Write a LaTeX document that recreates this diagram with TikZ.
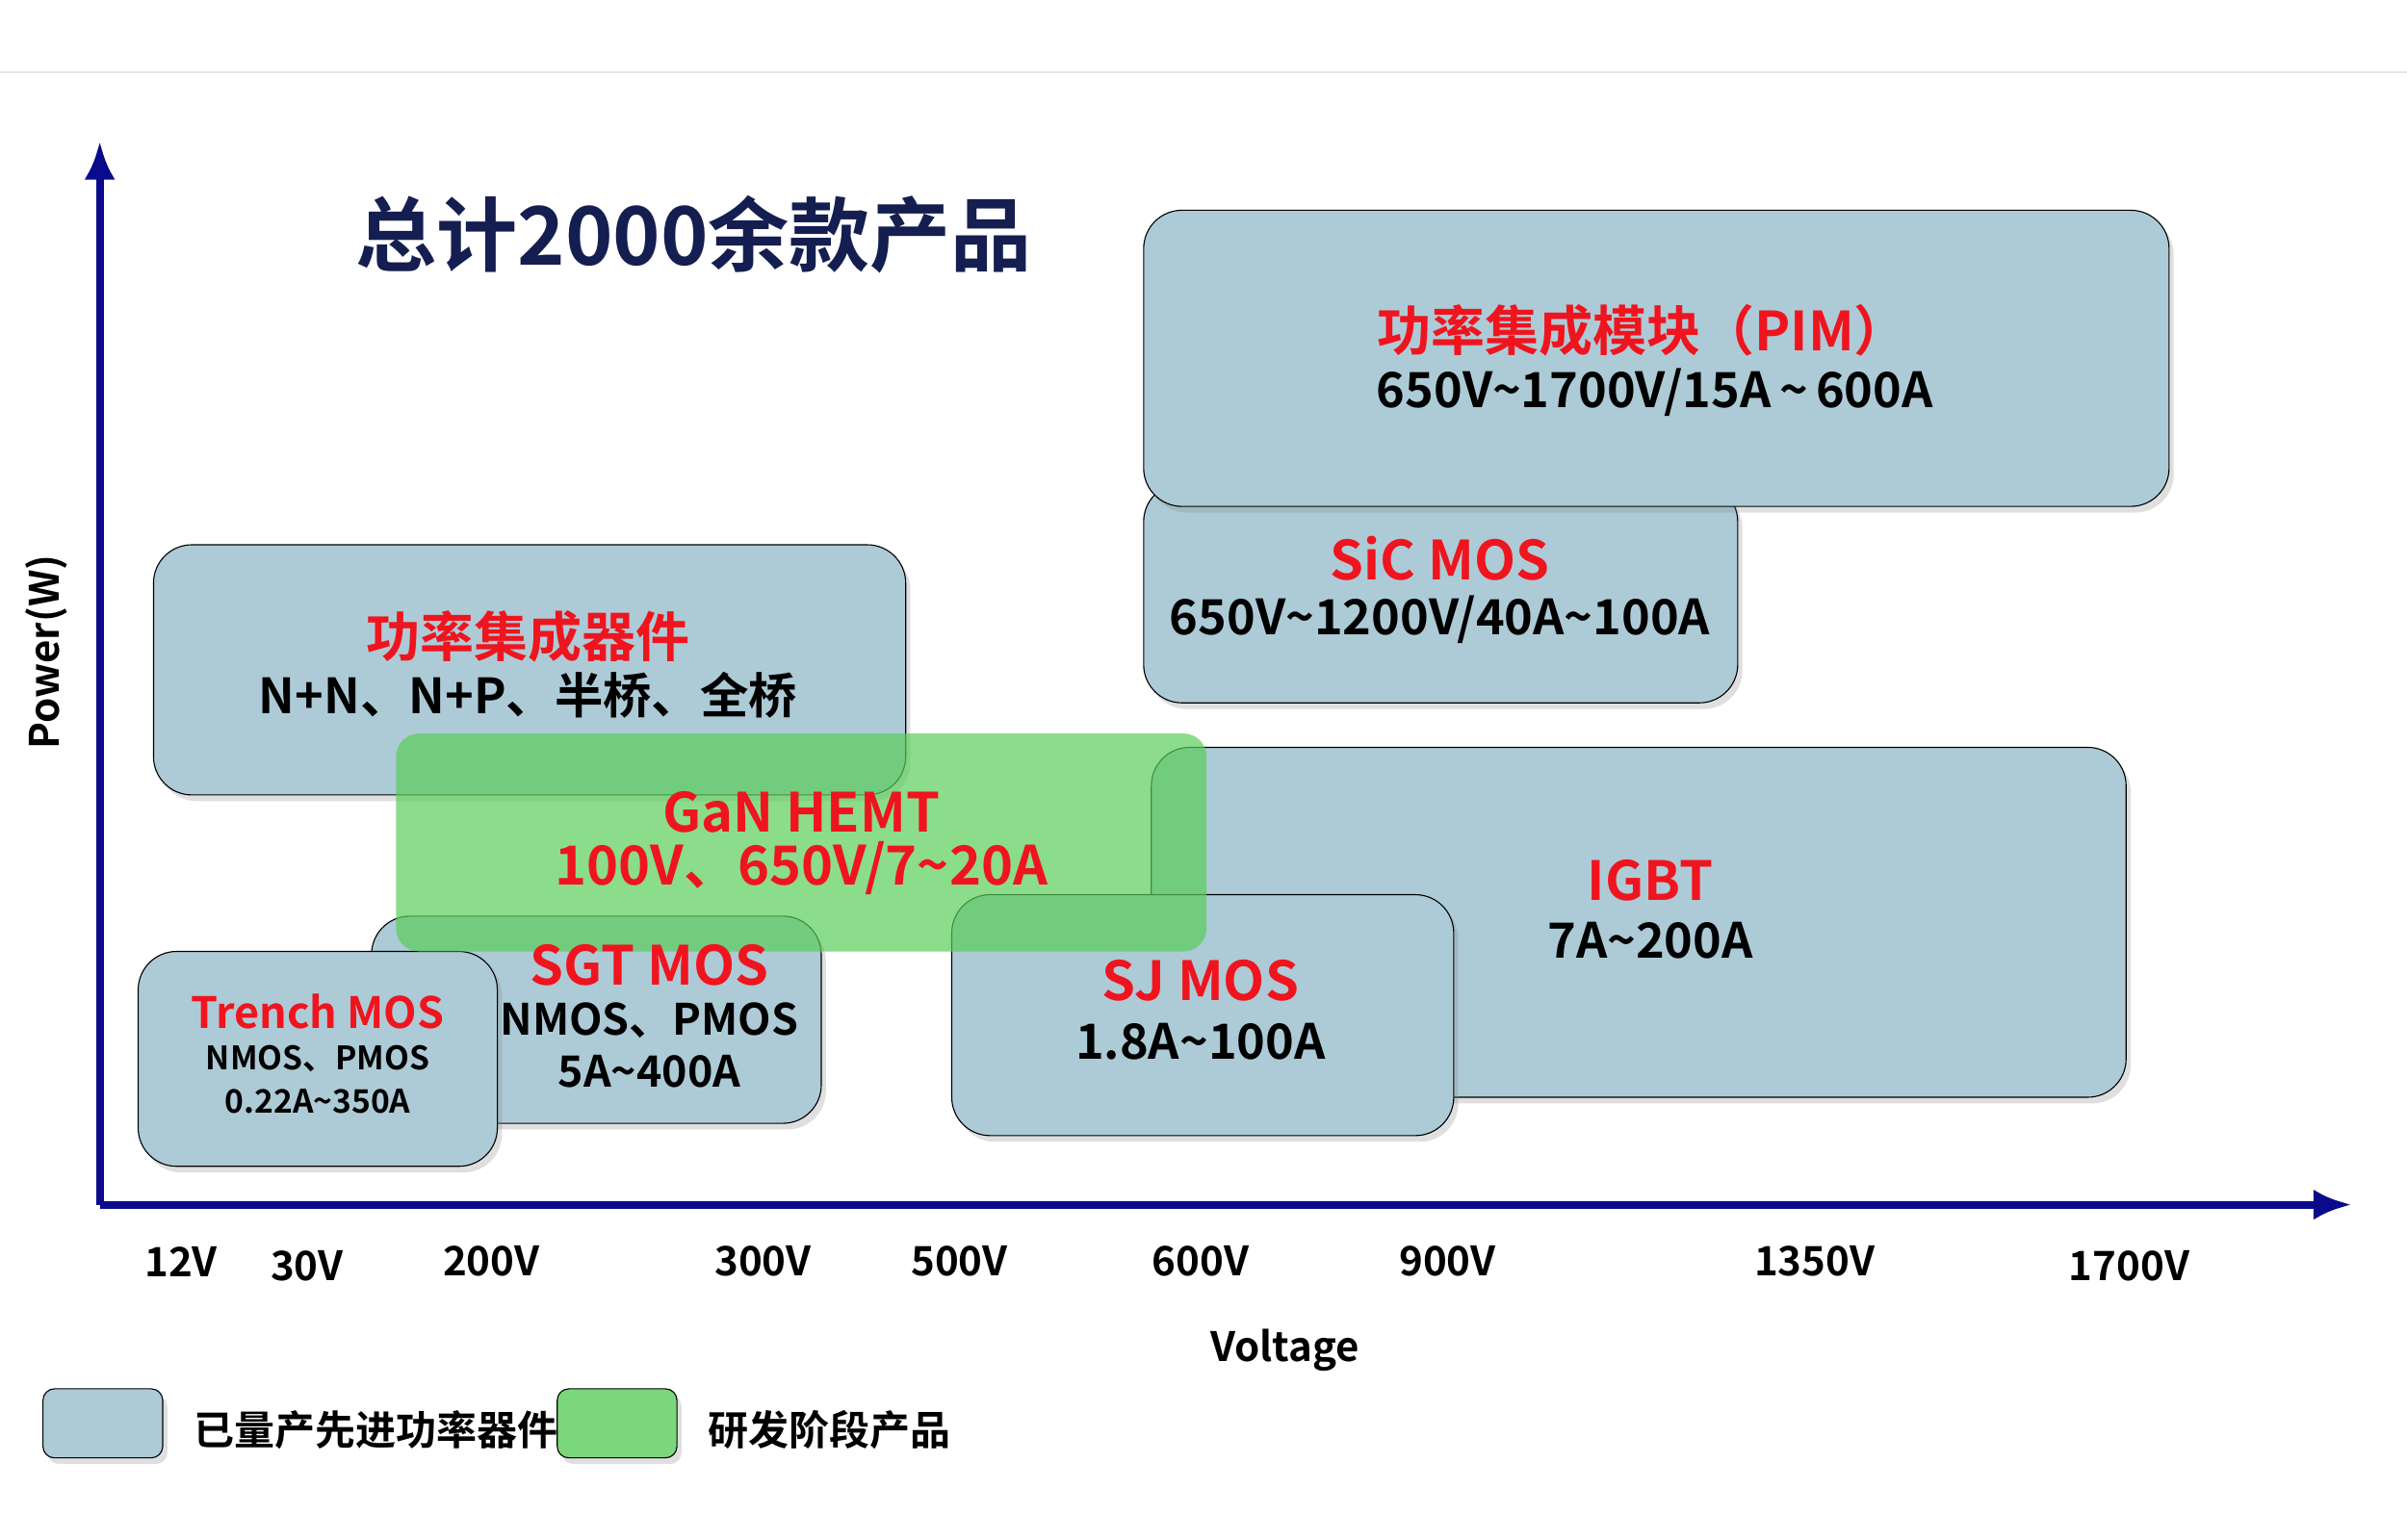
\documentclass[tikz,border=0pt]{standalone}
\usepackage{fontspec}
\setmainfont{Noto Sans CJK SC}[BoldFont={* Bold}]
\usetikzlibrary{shadows,arrows.meta}
\definecolor{boxblue}{RGB}{173,203,214}
\definecolor{gangreen}{RGB}{90,205,90}
\definecolor{hired}{RGB}{240,20,30}
\definecolor{axisblue}{RGB}{10,10,140}
\definecolor{titlenavy}{RGB}{20,30,80}
\begin{document}
\begin{tikzpicture}[x=0.02cm,y=-0.02cm,
   prodbox/.style={fill=boxblue,rounded corners=0.5cm,drop shadow={shadow xshift=0.06cm,shadow yshift=-0.08cm,opacity=0.25}},
   redlbl/.style={text=hired,font=\bfseries\fontsize{20}{24}\selectfont},
   vallbl/.style={font=\bfseries\fontsize{18}{22}\selectfont},
   ticklbl/.style={font=\bfseries\fontsize{15}{18}\selectfont},
   axis/.style={axisblue,line width=0.1cm,-{Latex[length=0.5cm,width=0.4cm]}}
  ]
  \useasboundingbox (0,0) rectangle (1568,1003);
  \draw[gray!20,line width=0.03cm] (0,47) -- (1568,47);
  % product boxes
  \filldraw[prodbox] (750,487) rectangle (1385,715);
  \filldraw[prodbox] (620,583) rectangle (947,740);
  \filldraw[prodbox] (745,315) rectangle (1132,458);
  \filldraw[prodbox] (745,137) rectangle (1413,330);
  \filldraw[prodbox] (100,355) rectangle (590,518);
  \filldraw[prodbox] (242,597) rectangle (535,732);
  \filldraw[prodbox] (90,620) rectangle (324,760);
  \fill[gangreen,opacity=0.7,rounded corners=0.3cm] (258,478) rectangle (786,620);
  % labels
  \node[redlbl] (pimT) at (1070,215) {功率集成模块（PIM）};
  \node[vallbl] (pimV) at (1078,256) {650V\textasciitilde1700V/15A\,\textasciitilde\,600A};
  \node[redlbl] (sicT) at (938,364) {SiC MOS};
  \node[vallbl] (sicV) at (938,404) {650V\textasciitilde1200V/40A\textasciitilde100A};
  \node[redlbl] (pidT) at (344,415) {功率集成器件};
  \node[vallbl] (pidV) at (344,453) {N+N、N+P、半桥、全桥};
  \node[redlbl] (ganT) at (522,529) {GaN HEMT};
  \node[redlbl] (ganV) at (522,566) {100V、650V/7\textasciitilde20A};
  \node[redlbl] (igbtT) at (1075,574) {IGBT};
  \node[vallbl] (igbtV) at (1075,613) {7A\textasciitilde200A};
  \node[redlbl] (sjT) at (782,639) {SJ MOS};
  \node[vallbl] (sjV) at (782,679) {1.8A\textasciitilde100A};
  \node[redlbl] (sgtT) at (423,629) {SGT MOS};
  \node[vallbl,font=\bfseries\fontsize{16}{19}\selectfont] (sgtN) at (423,665) {NMOS、PMOS};
  \node[vallbl,font=\bfseries\fontsize{16}{19}\selectfont] (sgtA) at (423,698) {5A\textasciitilde400A};
  \node[redlbl,font=\bfseries\fontsize{16}{19}\selectfont] (trT) at (207,659) {Trench MOS};
  \node[font=\bfseries\fontsize{12}{14}\selectfont] (trN) at (207,690) {NMOS、PMOS};
  \node[font=\bfseries\fontsize{12}{14}\selectfont] (trA) at (207,718) {0.22A\textasciitilde350A};
  % axes
  \coordinate (org) at (65,785);
  \coordinate (ytop) at (65,92);
  \coordinate (xend) at (1532,785);
  \draw[axis] (org) -- (ytop);
  \draw[axis] (org) -- (xend);
  \node[text=titlenavy,font=\bfseries\fontsize{30}{36}\selectfont] (title) at (452,153) {总计2000余款产品};
  \node[ticklbl,rotate=90] (ylbl) at (30,425) {Power(W)};
  \node[ticklbl] (xlbl) at (837,880) {Voltage};
  \foreach \xp/\v/\yp in {118/12V/822,200/30V/825,320/200V/822,497/300V/822,625/500V/822,
                          782/600V/822,943/900V/822,1182/1350V/822,1387/1700V/825}
    \node[ticklbl] (t\v) at (\xp,\yp) {\v};
  % legend
  \filldraw[prodbox,rounded corners=0.15cm] (28,905) rectangle (106,950);
  \node[ticklbl,anchor=west] (legA) at (120,932) {已量产先进功率器件};
  \filldraw[prodbox,fill=gangreen!80,rounded corners=0.15cm] (363,905) rectangle (441,950);
  \node[ticklbl,anchor=west] (legB) at (455,932) {研发阶段产品};
\end{tikzpicture}
\end{document}
